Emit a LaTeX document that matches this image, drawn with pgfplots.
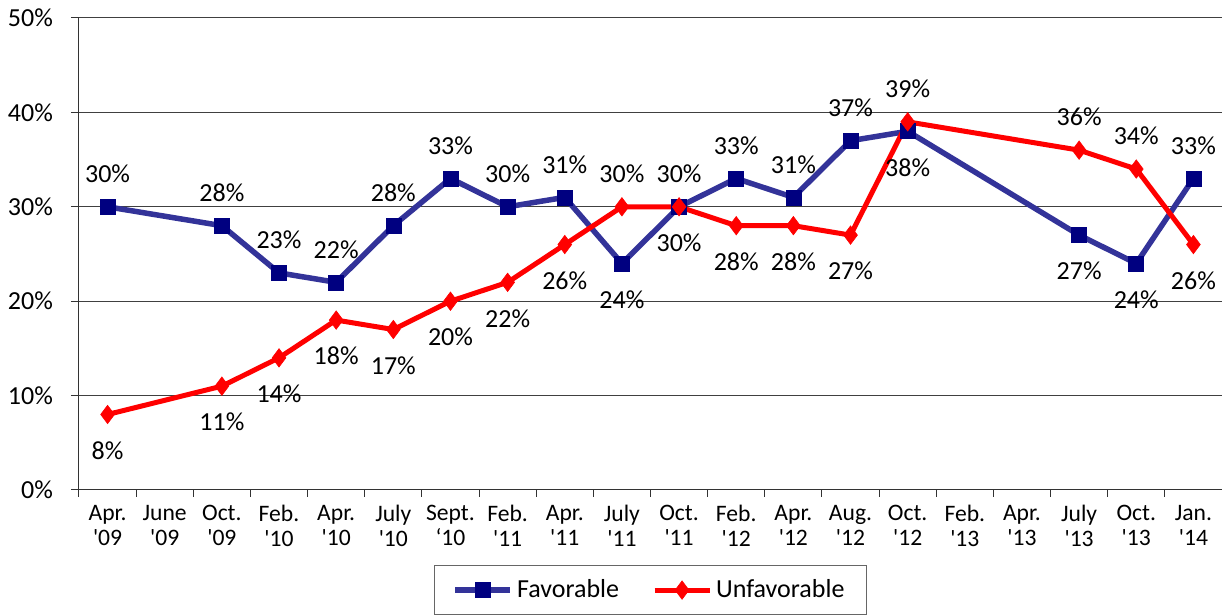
\documentclass[border=0pt]{standalone}
\usepackage{fontspec}
\setmainfont{Carlito}
\usepackage{pgfplots}
\pgfplotsset{compat=1.18}
\usepackage{pgfplotstable}
\definecolor{favline}{RGB}{51,51,153}
\definecolor{favmark}{RGB}{0,0,128}
\definecolor{unfav}{RGB}{255,0,0}

\pgfplotstableread{
x y off
0 30 16.5
2 28 16.5
3 23 16.5
4 22 16.5
5 28 16.5
6 33 16.5
7 30 16.5
8 31 16.5
9 24 -18
10 30 -18
11 33 16.5
12 31 16.5
13 37 16.5
14 38 -18
17 27 -18
18 24 -18
19 33 16.5
}\fav

\pgfplotstableread{
x y off
0 8 -18
2 11 -18
3 14 -18
4 18 -18
5 17 -18
6 20 -18
7 22 -18
8 26 -18
9 30 16.5
10 30 16.5
11 28 -18
12 28 -18
13 27 -18
14 39 16.5
17 36 16.5
18 34 16.5
19 26 -18
}\unfav

\begin{document}
\begin{tikzpicture}
\begin{axis}[
  scale only axis, width=571.5pt, height=236pt,
  xmin=-0.5, xmax=19.5, ymin=0, ymax=50,
  axis x line=bottom, axis y line=left,
  axis line style={-, black!80, line width=0.5pt},
  /pgf/number format/assume math mode=true,
  xtick={0,...,19},
  xticklabels={{Apr.\\\textquotesingle09},{June\\\textquotesingle09},{Oct.\\\textquotesingle09},{Feb.\\\textquotesingle10},{Apr.\\\textquotesingle10},{July\\\textquotesingle10},{Sept.\\\textquoteleft10},{Feb.\\\textquotesingle11},{Apr.\\\textquotesingle11},{July\\\textquotesingle11},{Oct.\\\textquotesingle11},{Feb.\\\textquotesingle12},{Apr.\\\textquotesingle12},{Aug.\\\textquotesingle12},{Oct.\\\textquotesingle12},{Feb.\\\textquotesingle13},{Apr.\\\textquotesingle13},{July\\\textquotesingle13},{Oct.\\\textquotesingle13},{Jan.\\\textquotesingle14}},
  major x tick style={draw=none},
  minor xtick={-0.5,0.5,...,19.5},
  minor x tick style={black!80, line width=0.5pt},
  minor tick length=3.5pt,
  ytick={0,10,...,50},
  yticklabel={\pgfmathprintnumber{\tick}\%},
  major y tick style={black!80, line width=0.5pt},
  major tick length=4pt,
  tick align=outside,
  ymajorgrids, grid style={black!75, line width=0.5pt},
  yticklabel style={font=\fontsize{13}{15}\selectfont, xshift=-5.5pt},
  xticklabel style={font=\fontsize{11.8}{12.5}\selectfont, align=center},
  clip=false,
  legend columns=2,
  legend style={at={(axis description cs:0.5,-0.159)}, anchor=north,
    draw=black!60, line width=0.5pt, font=\fontsize{13}{15}\selectfont,
    inner xsep=9pt, inner ysep=5pt,
    /tikz/every even column/.append style={column sep=14.5pt}},
  legend image code/.code={\draw[mark repeat=2,mark phase=2] plot coordinates {(0pt,0pt)(13.75pt,0pt)(27.5pt,0pt)};},
]
\addplot[favline, line width=2.75pt, mark=square*, mark size=3.75pt,
  mark options={fill=favmark, draw=favmark, line width=0.3pt, solid},
  visualization depends on={\thisrow{off} \as \loff},
  nodes near coords={\pgfmathprintnumber{\pgfplotspointmeta}\%},
  every node near coord/.append style={anchor=center, yshift=\loff pt, text=black, font=\fontsize{13}{15}\selectfont}]
  table[x=x, y=y] {\fav};
\addlegendentry{Favorable}
\addplot[unfav, line width=2.5pt, mark=diamond*, mark size=4.6pt,
  mark options={fill=unfav, draw=unfav, line width=0.3pt, solid},
  visualization depends on={\thisrow{off} \as \loff},
  nodes near coords={\pgfmathprintnumber{\pgfplotspointmeta}\%},
  every node near coord/.append style={anchor=center, yshift=\loff pt, text=black, font=\fontsize{13}{15}\selectfont}]
  table[x=x, y=y] {\unfav};
\addlegendentry{Unfavorable}
\end{axis}
\pgfresetboundingbox
\path (-39.5pt,-62.5pt) rectangle (571.5pt,245pt);
\end{tikzpicture}
\end{document}
